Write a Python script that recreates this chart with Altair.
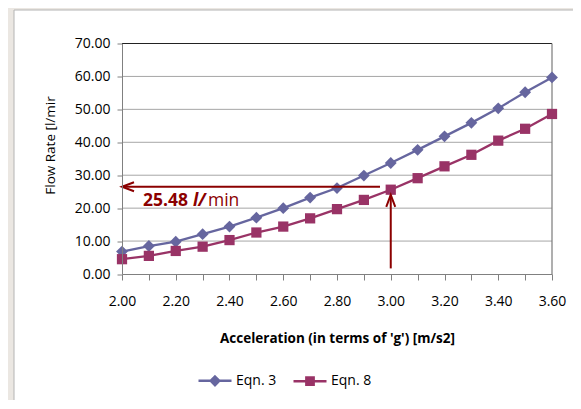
import altair as alt
import pandas as pd

# ---------------- data ----------------
accel = [2.0, 2.1, 2.2, 2.3, 2.4, 2.5, 2.6, 2.7, 2.8, 2.9, 3.0, 3.1, 3.2, 3.3, 3.4, 3.5, 3.6]
eqn3 = [6.8, 8.5, 9.8, 12.1, 14.4, 17.1, 20.0, 23.2, 26.1, 29.9, 33.7, 37.7, 41.8, 45.9, 50.3, 55.2, 59.7]
eqn8 = [4.5, 5.5, 7.0, 8.3, 10.3, 12.6, 14.4, 16.9, 19.7, 22.5, 25.6, 29.1, 32.7, 36.2, 40.5, 44.1, 48.6]
series_names = ["Eqn. 3", "Eqn. 8"]
y_ticks = [0, 10, 20, 30, 40, 50, 60, 70]

# annotation (data units)
read_x = [2.0, 2.96]     # horizontal arrow: tip, tail
read_y = [26.5]
up_x = [3.0]
up_y = [1.7, 24.0]       # vertical arrow: tail, tip
note_x = [2.078]
note_y = [20.7]
note_parts = ["25.48 ", "l/", "min"]

BLUE = "#66669f"
MAG = "#993366"
RED = "#8b0000"
GRID = "#a6a6a6"
AXC = "#808080"
FONT = "Open Sans"

df = pd.DataFrame({
    "accel": accel * 2,
    "flow": eqn3 + eqn8,
    "series": [series_names[0]] * len(accel) + [series_names[1]] * len(accel),
})

xs = alt.Scale(domain=[accel[0], accel[-1]], nice=False, zero=False)
ys = alt.Scale(domain=[y_ticks[0], y_ticks[-1]], nice=False)
cs = alt.Scale(domain=series_names, range=[BLUE, MAG])

x_axis = alt.Axis(
    values=accel,
    labelExpr="round(datum.value*10)%2==0 ? format(datum.value,'.2f') : ''",
    title="Acceleration (in terms of 'g') [m/s2]",
    titleFontSize=13.5, titleFontWeight="bold", titleColor="black",
    titleY=64, titleBaseline="middle",
    grid=False, ticks=True, tickSize=6, tickWidth=1, tickColor=AXC, domainColor=AXC,
    labelPadding=14, labelFontSize=14, labelColor="black", labelFlush=False,
    zindex=1,
)
y_axis = alt.Axis(
    values=y_ticks, format=".2f",
    title="Flow Rate [l/mir", titleFontSize=13.5, titleFontWeight="normal", titleColor="black",
    titleX=-72, titleY=101.5, titleAngle=-90, titleAlign="center", titleBaseline="middle",
    grid=False, ticks=True, tickSize=5, tickWidth=1, tickColor=AXC, domainColor=AXC,
    labelPadding=7, labelFontSize=14, labelColor="black",
    zindex=1,
)

def X(f="accel"):
    return alt.X(f"{f}:Q", scale=xs, axis=x_axis)

def Y(f="flow"):
    return alt.Y(f"{f}:Q", scale=ys, axis=y_axis)

leg_props = dict(
    orient="none", legendX=75, legendY=319, direction="horizontal", title=None,
    symbolSize=1089, symbolStrokeWidth=2.5, symbolOpacity=1,
    labelOffset=3, columnPadding=11, labelFont=FONT, labelFontSize=14,
    labelColor="black", padding=0, zindex=2,
)
leg_paths = [
    "M-1,0H1M0,-0.26L0.26,0L0,0.26L-0.26,0Z",
    "M-1,0H1M-0.22,-0.22H0.22V0.22H-0.22Z",
]

def C():
    return alt.Color("series:N", scale=cs, legend=alt.Legend(**leg_props))

one = pd.DataFrame({"a": [0]})

frame = alt.Chart(one).mark_rect(fill="white", stroke="#b4b4b4", strokeWidth=1).encode(
    x=alt.value(-108), x2=alt.value(520), y=alt.value(-33.5), y2=alt.value(420)
)

grid = alt.Chart(pd.DataFrame({"flow": y_ticks[1:-1]})).mark_rule(color=GRID, strokeWidth=1).encode(
    y=Y()
)
top = alt.Chart(pd.DataFrame({"flow": [y_ticks[-1]]})).mark_rule(color="#222222", strokeWidth=1).encode(
    y=Y()
)
right = alt.Chart(pd.DataFrame({"accel": [accel[-1]]})).mark_rule(color="#7a7a7a", strokeWidth=1.2).encode(
    x=X()
)

lines = alt.Chart(df).mark_line(strokeWidth=2.3).encode(
    x=X(), y=Y(), color=C(), detail="series:N",
)

pts3 = alt.Chart(df).transform_filter(alt.datum.series == series_names[0]).mark_point(
    shape="diamond", filled=True, size=140, opacity=1
).encode(x=X(), y=Y(), color=C())
pts8 = alt.Chart(df).transform_filter(alt.datum.series == series_names[1]).mark_point(
    shape="square", filled=True, size=105, opacity=1
).encode(x=X(), y=Y(), color=C())

h_arrow = alt.Chart(pd.DataFrame({"accel": [read_x[0]], "x2": [read_x[1]], "flow": read_y})).mark_rule(
    color=RED, strokeWidth=2
).encode(x=X(), x2="x2:Q", y=Y())
h_head = alt.Chart(pd.DataFrame({"accel": [read_x[0]], "flow": read_y})).mark_point(
    shape="M2,-0.75L0,0L2,0.75", size=144, filled=False, strokeWidth=2, color=RED, opacity=1
).encode(x=X(), y=Y())

v_arrow = alt.Chart(pd.DataFrame({"accel": up_x, "flow": [up_y[0]], "y2": [up_y[1]]})).mark_rule(
    color=RED, strokeWidth=2
).encode(x=X(), y=Y(), y2="y2:Q")
v_head = alt.Chart(pd.DataFrame({"accel": up_x, "flow": [up_y[1]]})).mark_point(
    shape="M-0.75,2L0,0L0.75,2", size=144, filled=False, strokeWidth=2, color=RED, opacity=1
).encode(x=X(), y=Y())

note_df = pd.DataFrame({"accel": note_x, "flow": note_y})
def note(txt, dx, weight, style):
    return alt.Chart(note_df).mark_text(
        text=txt, align="left", baseline="alphabetic", dx=dx,
        font=FONT, fontSize=17.5, fontWeight=weight, fontStyle=style, color=RED
    ).encode(x=X(), y=Y())

t1 = note(note_parts[0], 0, "bold", "normal")
t2 = note(note_parts[1], 50, "bold", "italic")
t3 = note(note_parts[2], 65, "normal", "normal")

legend_layer = alt.Chart(df).mark_point(filled=True, opacity=0, strokeWidth=2.5).encode(
    x=X(), y=Y(),
    color=C(),
    stroke=alt.Stroke("series:N", scale=cs, legend=alt.Legend(**leg_props)),
    shape=alt.Shape("series:N", scale=alt.Scale(domain=series_names, range=leg_paths),
                    legend=alt.Legend(**leg_props)),
)

chart = alt.layer(
    frame, grid, top, right, lines, pts3, pts8,
    h_arrow, h_head, v_arrow, v_head, t1, t2, t3, legend_layer
).properties(
    width=430, height=230.5,
    autosize=alt.AutoSizeParams(type="none"),
    padding={"left": 114, "top": 35.5, "right": 21, "bottom": 126},
    background="#ebe7e2",
).configure(font=FONT).configure_view(stroke=None)

chart.save("out.html", embed_options={"renderer": "svg", "actions": False})
